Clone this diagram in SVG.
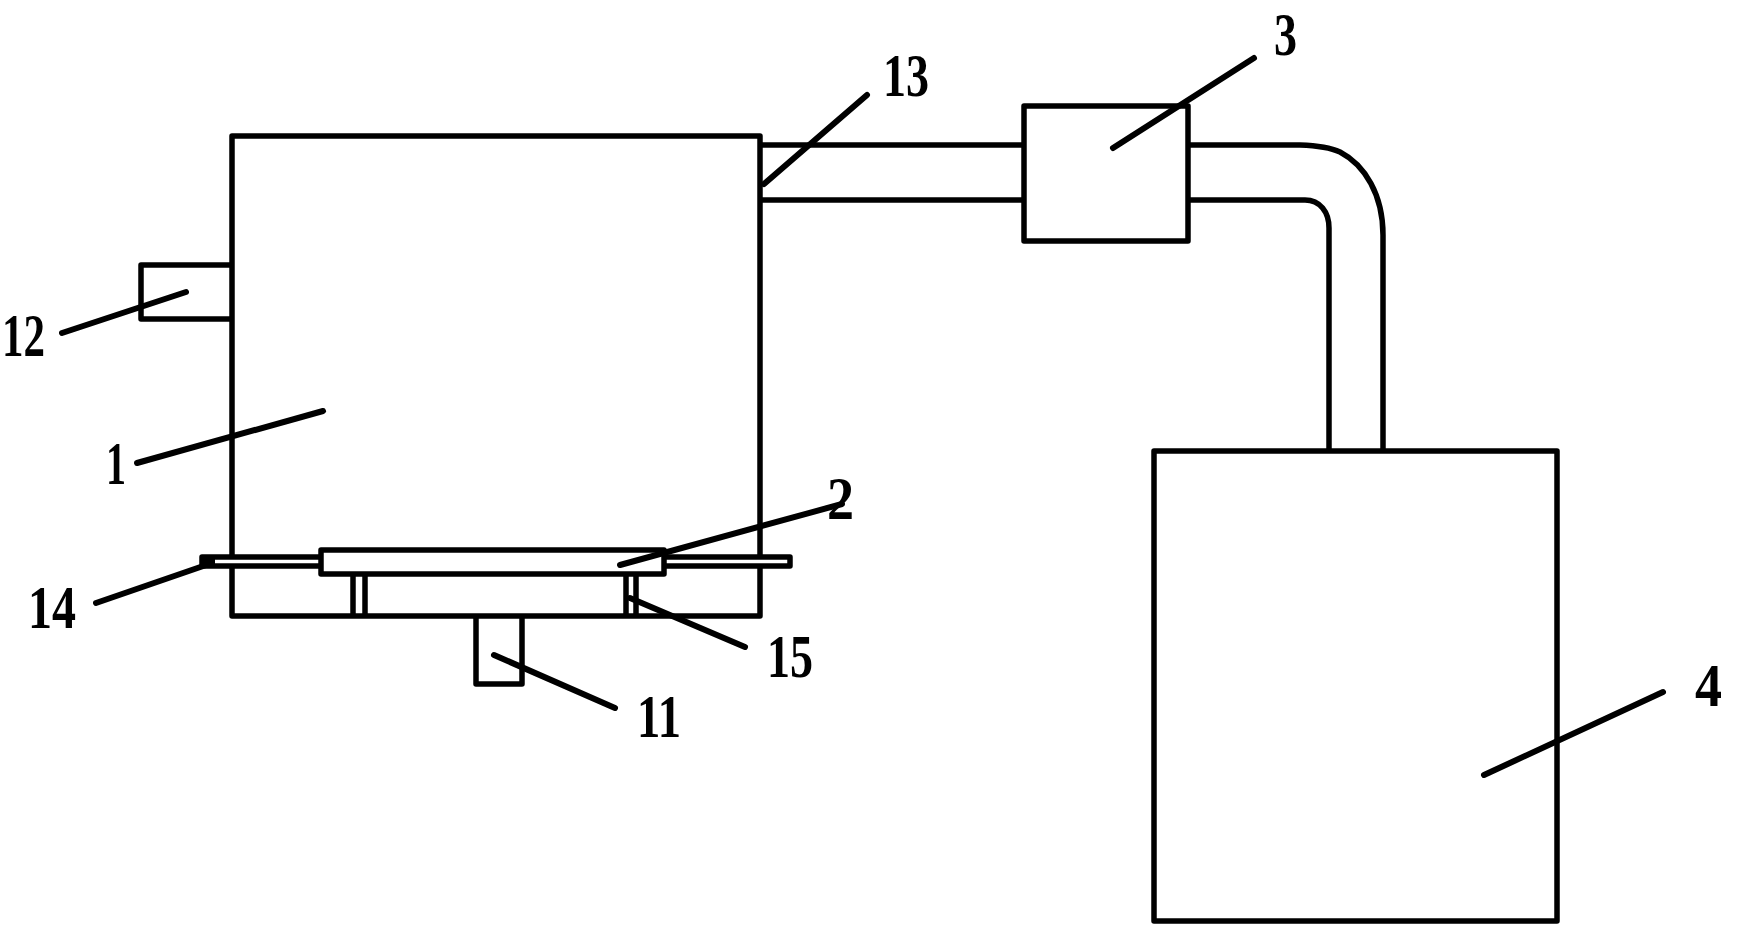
<svg xmlns="http://www.w3.org/2000/svg" width="1748" height="928" viewBox="0 0 1748 928">
<style>
.s{fill:none;stroke:#000;stroke-width:5.5;stroke-linejoin:round}
.w{fill:#fff;stroke:#000;stroke-width:5.5;stroke-linejoin:round}
.l{fill:none;stroke:#000;stroke-width:6;stroke-linecap:round}
text{font-family:"Liberation Serif",serif;font-weight:700;font-size:62px;fill:#000}
</style>
<rect width="1748" height="928" fill="#fff"/>
<g id="node-1"><rect class="s" x="232" y="136" width="528" height="480"/></g>
<g id="node-12"><path class="s" d="M232 265H141V319H232"/></g>
<g id="node-11"><path class="s" d="M476 616V684H522V616"/></g>
<g id="node-14"><rect class="w" x="202" y="557" width="588" height="9"/><rect x="200" y="555" width="15" height="13" fill="#000"/></g>
<g id="node-2"><rect class="w" x="321" y="550" width="343" height="24"/></g>
<g id="node-15"><path class="s" d="M353 574V616M365 574V616M626 574V616M636 574V616"/></g>
<g id="node-3"><rect class="s" x="1024" y="106" width="164" height="135"/></g>
<g id="node-4"><rect class="s" x="1154" y="451" width="403" height="470"/></g>
<g id="connectors">
<path class="s" d="M760 145H1024M760 200H1024"/>
<path class="s" d="M1188 145H1300Q1327 146 1340 152C1365 165 1383 195 1383 235V451"/>
<path class="s" d="M1188 200H1305C1320 200 1329 212 1329 228V451"/>
<path class="l" d="M764 184L867 95"/>
<path class="l" d="M1113 148L1254 58"/>
<path class="l" d="M620 565L842 504"/>
<path class="l" d="M96 603L212 563"/>
<path class="l" d="M630 598L745 647"/>
<path class="l" d="M494 655L615 708"/>
<path class="l" d="M1484 775L1663 692"/>
<path class="l" d="M62 333L186 292"/>
<path class="l" d="M137 463L323 411"/>
</g>
<g id="labels">
<text x="883" y="96" textLength="46" lengthAdjust="spacingAndGlyphs">13</text>
<text x="1274" y="55" textLength="23" lengthAdjust="spacingAndGlyphs">3</text>
<text x="827" y="519" textLength="27" lengthAdjust="spacingAndGlyphs">2</text>
<text x="28" y="628" textLength="48" lengthAdjust="spacingAndGlyphs">14</text>
<text x="767" y="677" textLength="46" lengthAdjust="spacingAndGlyphs">15</text>
<text x="637" y="737" textLength="44" lengthAdjust="spacingAndGlyphs">11</text>
<text x="1695" y="706" textLength="27" lengthAdjust="spacingAndGlyphs">4</text>
<text x="2" y="356" textLength="43" lengthAdjust="spacingAndGlyphs">12</text>
<text x="106" y="484" textLength="20" lengthAdjust="spacingAndGlyphs">1</text>
</g>
</svg>
